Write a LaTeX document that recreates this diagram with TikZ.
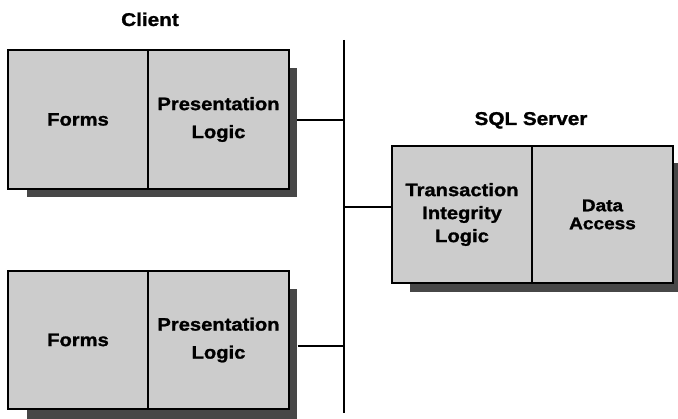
\documentclass[tikz,border=0pt]{standalone}
\usepackage{fontspec}
\newfontfamily\lab{Liberation Sans}[FakeStretch=1.12, BoldFeatures={FakeBold=1.3}]
\begin{document}
\begin{tikzpicture}[x=1pt,y=-1pt,
  box/.style={draw=black,line width=1.4pt,fill=black!20,inner sep=0pt,
    font=\lab\bfseries\fontsize{18}{23}\selectfont,align=center,text=black},
  shadowbox/.style={fill=black!72,draw=none},
  conn/.style={draw=black,line width=1.6pt},
  title/.style={font=\lab\bfseries\fontsize{18.5}{22}\selectfont,anchor=base,inner sep=0pt}]
\useasboundingbox (0,0) rectangle (678,419);
% bus
\coordinate (bustop) at (344,40);
\coordinate (busbot) at (344,413);
\draw[conn] (bustop) -- (busbot);
% titles
\node[title] (client) at (150,26) {Client};
\node[title] (sql) at (531,125) {SQL Server};
% shadows
\fill[shadowbox] (27,68) rectangle (297,197);
\fill[shadowbox] (27,289) rectangle (297,419);
\fill[shadowbox] (410,163) rectangle (678,292);
% top client
\node[box,minimum width=140,minimum height=139] (forms1) at (78,119.5) {Forms};
\node[box,minimum width=141,minimum height=139,font=\lab\bfseries\fontsize{18}{28}\selectfont] (pres1) at (218.5,119.5) {Presentation\\Logic};
% bottom client
\node[box,minimum width=140,minimum height=138] (forms2) at (78,340) {Forms};
\node[box,minimum width=141,minimum height=138,font=\lab\bfseries\fontsize{18}{28}\selectfont] (pres2) at (218.5,340) {Presentation\\Logic};
% server
\node[box,minimum width=140,minimum height=137] (tx) at (462,214.5) {Transaction\\Integrity\\Logic};
\node[box,minimum width=141,minimum height=137,font=\lab\bfseries\fontsize{17}{18}\selectfont] (da) at (602.5,214.5) {Data\\Access};
% connectors
\draw[conn] (297,120) -- (344,120);
\draw[conn] (pres2.east |- 0,346) ++(8,0) -- (344,346);
\draw[conn] (344,207) -- (tx.west |- 0,207);
\end{tikzpicture}
\end{document}
